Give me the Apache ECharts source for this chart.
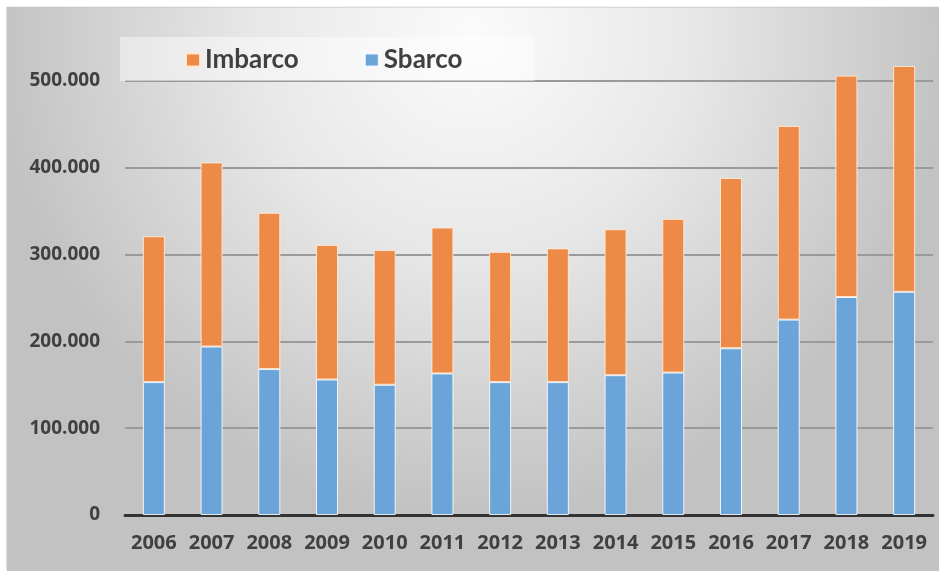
<!DOCTYPE html>
<html>
<head>
<meta charset="utf-8">
<script src="https://cdn.jsdelivr.net/npm/echarts@6/dist/echarts.min.js"></script>
<style>
  html, body { margin: 0; padding: 0; background: #fff; }
  #chart { width: 939px; height: 571px; }
</style>
</head>
<body>
<div id="chart"></div>
<script>
const years = ['2006', '2007', '2008', '2009', '2010', '2011', '2012', '2013', '2014', '2015', '2016', '2017', '2018', '2019']
const sbarco = [153000, 194000, 168000, 156000, 150000, 163000, 153000, 153000, 161000, 164000, 192000, 225000, 251000, 257000]
const imbarco = [168000, 212000, 180000, 155000, 155000, 168000, 150000, 154000, 168000, 177000, 196000, 223000, 255000, 260000]
const yTicks = [0, 100000, 200000, 300000, 400000, 500000]

const axisFont = '"Open Sans", Lato, sans-serif'
const legendFont = 'Lato, "Open Sans", sans-serif'
const textColor = '#404040'

// 500000 -> "500.000"
function fmt(v) {
  return String(v).replace(/\B(?=(\d{3})+(?!\d))/g, '.')
}

const chart = echarts.init(document.getElementById('chart'))
chart.setOption({
  animation: false,
  graphic: [
    {
      type: 'rect',
      z: -100,
      shape: { x: 7, y: 7, width: 932, height: 564 },
      style: {
        fill: {
          type: 'radial',
          x: 0.5, y: 0.05, r: 0.85,
          colorStops: [
            { offset: 0, color: '#fbfbfb' },
            { offset: 0.45, color: '#e8e8e8' },
            { offset: 1, color: '#c2c2c2' }
          ]
        },
        stroke: '#c4c4c4',
        lineWidth: 1
      }
    },
    {
      // white border strip on top, hides the split line at the axis max
      type: 'rect',
      z: 100,
      shape: { x: 0, y: 0, width: 939, height: 6.5 },
      style: { fill: '#fff' }
    }
  ],
  legend: {
    data: ['Imbarco', 'Sbarco'],
    left: 120,
    top: 37,
    padding: [10, 72, 8, 65],
    backgroundColor: 'rgba(255,255,255,0.45)',
    itemWidth: 14,
    itemHeight: 13,
    itemGap: 65,
    icon: 'rect',
    textStyle: {
      color: textColor,
      fontSize: 26,
      fontWeight: 'bold',
      fontFamily: legendFont
    }
  },
  grid: {
    left: 125,
    right: 6,
    top: 0,
    bottom: 56
  },
  xAxis: {
    type: 'category',
    data: years,
    axisTick: { show: false },
    axisLine: { lineStyle: { color: '#333', width: 3 } },
    axisLabel: {
      color: textColor,
      fontSize: 20,
      fontWeight: 'bold',
      fontFamily: axisFont,
      margin: 18,
      interval: 0
    }
  },
  yAxis: {
    type: 'value',
    min: 0,
    max: 593000,
    interval: 100000,
    axisLine: { show: false },
    axisTick: { show: false },
    splitLine: { lineStyle: { color: '#9a9a9a', width: 2 } },
    axisLabel: {
      color: textColor,
      fontSize: 19,
      fontWeight: 'bold',
      fontFamily: axisFont,
      margin: 25,
      showMaxLabel: false,
      formatter: v => (yTicks.indexOf(v) >= 0 ? fmt(v) : '')
    }
  },
  series: [
    {
      name: 'Sbarco',
      type: 'bar',
      stack: 'tot',
      barWidth: 22,
      data: sbarco,
      itemStyle: { color: '#6aa4d8', borderColor: 'rgba(255,255,255,0.85)', borderWidth: 1 }
    },
    {
      name: 'Imbarco',
      type: 'bar',
      stack: 'tot',
      barWidth: 22,
      data: imbarco,
      itemStyle: { color: '#ed8a47', borderColor: 'rgba(255,235,215,0.9)', borderWidth: 1 }
    }
  ]
})
</script>
</body>
</html>
